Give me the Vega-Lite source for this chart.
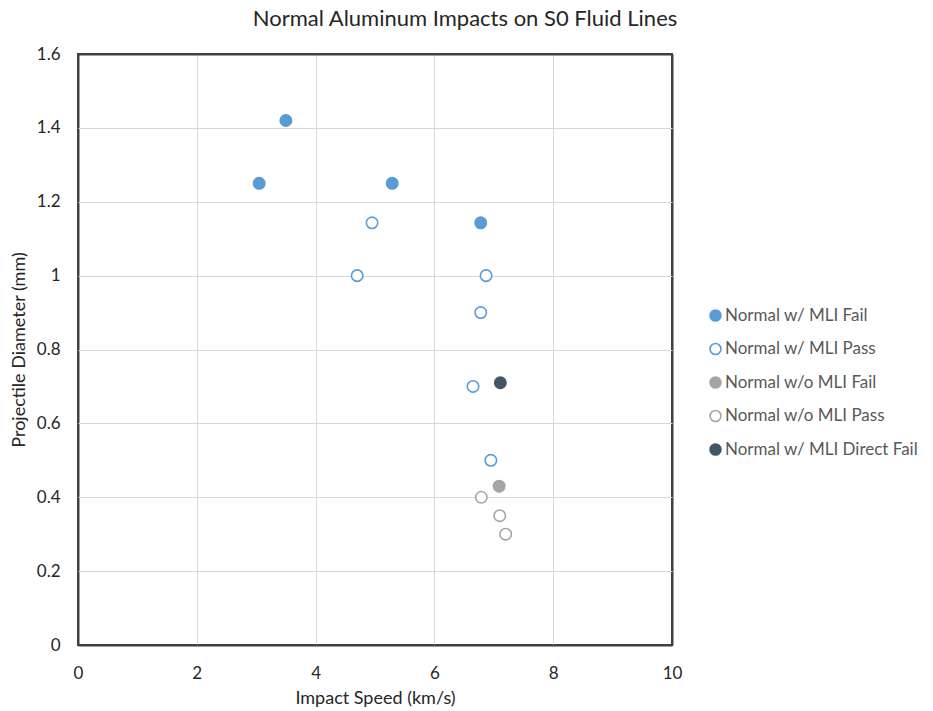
{
  "$schema": "https://vega.github.io/schema/vega-lite/v6.json",
  "width": 594,
  "height": 591,
  "autosize": {"type": "none"},
  "padding": {"left": 78, "top": 54, "right": 261, "bottom": 66},
  "background": "white",
  "title": {
    "text": "Normal Aluminum Impacts on S0 Fluid Lines",
    "font": "Lato",
    "fontSize": 22,
    "fontWeight": "normal",
    "color": "#262626",
    "offset": 14,
    "dx": 90
  },
  "config": {
    "font": "Lato",
    "view": {"stroke": "#404040", "strokeWidth": 2}
  },
  "data": {
    "values": [
      {"speed": 3.05, "diameter": 1.25, "series": "Normal w/ MLI Fail"},
      {"speed": 3.5, "diameter": 1.42, "series": "Normal w/ MLI Fail"},
      {"speed": 5.29, "diameter": 1.25, "series": "Normal w/ MLI Fail"},
      {"speed": 6.78, "diameter": 1.143, "series": "Normal w/ MLI Fail"},
      {"speed": 4.7, "diameter": 1.0, "series": "Normal w/ MLI Pass"},
      {"speed": 4.95, "diameter": 1.143, "series": "Normal w/ MLI Pass"},
      {"speed": 6.87, "diameter": 1.0, "series": "Normal w/ MLI Pass"},
      {"speed": 6.78, "diameter": 0.9, "series": "Normal w/ MLI Pass"},
      {"speed": 6.65, "diameter": 0.7, "series": "Normal w/ MLI Pass"},
      {"speed": 6.95, "diameter": 0.5, "series": "Normal w/ MLI Pass"},
      {"speed": 7.09, "diameter": 0.43, "series": "Normal w/o MLI Fail"},
      {"speed": 6.79, "diameter": 0.4, "series": "Normal w/o MLI Pass"},
      {"speed": 7.1, "diameter": 0.35, "series": "Normal w/o MLI Pass"},
      {"speed": 7.2, "diameter": 0.3, "series": "Normal w/o MLI Pass"},
      {"speed": 7.11, "diameter": 0.71, "series": "Normal w/ MLI Direct Fail"}
    ]
  },
  "mark": {"type": "point", "shape": "circle", "size": 130, "strokeWidth": 1.6, "opacity": 1},
  "encoding": {
    "x": {
      "field": "speed",
      "type": "quantitative",
      "scale": {"domain": [0, 10], "nice": false, "zero": true},
      "axis": {
        "title": "Impact Speed (km/s)",
        "values": [0, 2, 4, 6, 8, 10],
        "format": "d",
        "domain": false,
        "ticks": false,
        "grid": true,
        "gridColor": {"condition": {"test": "datum.value == 0 || datum.value == 10", "value": "#404040"}, "value": "#D9D9D9"},
        "gridWidth": {"condition": {"test": "datum.value == 0 || datum.value == 10", "value": 2}, "value": 1},
        "labelFlush": false,
        "labelFontSize": 17,
        "labelColor": "#262626",
        "labelPadding": 20,
        "titleFontSize": 18,
        "titleFontWeight": "normal",
        "titleColor": "#262626",
        "titlePadding": 8
      }
    },
    "y": {
      "field": "diameter",
      "type": "quantitative",
      "scale": {"domain": [0, 1.6], "nice": false, "zero": true},
      "axis": {
        "title": "Projectile Diameter (mm)",
        "values": [0, 0.2, 0.4, 0.6, 0.8, 1, 1.2, 1.4, 1.6],
        "format": ".1~f",
        "domain": false,
        "ticks": false,
        "grid": true,
        "gridColor": {"condition": {"test": "datum.value == 0 || datum.value == 1.6", "value": "#404040"}, "value": "#D9D9D9"},
        "gridWidth": {"condition": {"test": "datum.value == 0 || datum.value == 1.6", "value": 2}, "value": 1},
        "labelFlush": false,
        "labelFontSize": 17,
        "labelColor": "#262626",
        "labelPadding": 18,
        "titleFontSize": 18,
        "titleFontWeight": "normal",
        "titleColor": "#262626",
        "titlePadding": 8
      }
    },
    "stroke": {
      "field": "series",
      "type": "nominal",
      "scale": {
        "domain": ["Normal w/ MLI Fail", "Normal w/ MLI Pass", "Normal w/o MLI Fail", "Normal w/o MLI Pass", "Normal w/ MLI Direct Fail"],
        "range": ["#5B9BD5", "#5B9BD5", "#A5A5A5", "#A5A5A5", "#44546A"]
      },
      "legend": {
        "title": null,
        "orient": "none",
        "legendX": 629,
        "legendY": 253,
        "symbolSize": 120,
        "symbolStrokeWidth": 1.6,
        "labelFontSize": 17,
        "labelColor": "#595959",
        "labelOffset": 1,
        "rowPadding": 14.5,
        "labelLimit": 300
      }
    },
    "fill": {
      "field": "series",
      "type": "nominal",
      "scale": {
        "domain": ["Normal w/ MLI Fail", "Normal w/ MLI Pass", "Normal w/o MLI Fail", "Normal w/o MLI Pass", "Normal w/ MLI Direct Fail"],
        "range": ["#5B9BD5", "#FFFFFF", "#A5A5A5", "#FFFFFF", "#44546A"]
      },
      "legend": {
        "title": null,
        "orient": "none",
        "legendX": 629,
        "legendY": 253,
        "symbolSize": 120,
        "symbolStrokeWidth": 1.6,
        "labelFontSize": 17,
        "labelColor": "#595959",
        "labelOffset": 1,
        "rowPadding": 14.5,
        "labelLimit": 300
      }
    }
  }
}
